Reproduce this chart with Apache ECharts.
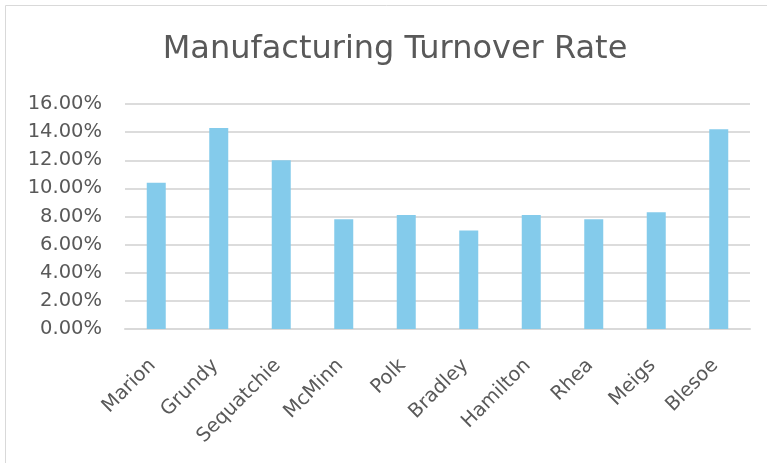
<!DOCTYPE html>
<html><head><meta charset="utf-8">
<script src="https://cdn.jsdelivr.net/npm/echarts@6/dist/echarts.min.js"></script>
<style>html,body{margin:0;padding:0;background:#fff}#c{width:767px;height:463px}</style>
</head><body><div id="c"></div>
<script>
const categories = ['Marion','Grundy','Sequatchie','McMinn','Polk','Bradley','Hamilton','Rhea','Meigs','Blesoe'];
const turnoverRate = [0.104, 0.143, 0.120, 0.078, 0.081, 0.070, 0.081, 0.078, 0.083, 0.142];
const yMin = 0, yMax = 0.16, yStep = 0.02;
const chart = echarts.init(document.getElementById('c'));
chart.setOption({
  animation: false,
  graphic: [{type:'rect', shape:{x:5.5,y:5.5,width:780,height:480}, style:{fill:'none', stroke:'#d9d9d9', lineWidth:1}, silent:true}],
  title: {text:'Manufacturing Turnover Rate', left: 390, top: 29, textAlign:'center',
    textStyle:{fontFamily:'DejaVu Sans, sans-serif', fontSize:32, fontWeight:'normal', color:'#595959'}},
  grid: {left:125, right:17, top:104, bottom:134},
  xAxis: {type:'category', data:categories,
    axisLine:{lineStyle:{color:'#d9d9d9', width:2}}, axisTick:{show:false},
    axisLabel:{rotate:45, color:'#595959', fontSize:19.5, fontFamily:'DejaVu Sans, sans-serif', margin:30, padding:[0,5,0,0], interval:0}},
  yAxis: {type:'value', min:yMin, max:yMax, interval:yStep,
    axisLine:{show:false}, axisTick:{show:false},
    splitLine:{lineStyle:{color:'#dcdcdc', width:2}},
    axisLabel:{color:'#595959', fontSize:19.5, fontFamily:'DejaVu Sans, sans-serif', margin:23,
      formatter: v => (v*100).toFixed(2)+'%'}},
  series: [{type:'bar', data:turnoverRate, barWidth:19, itemStyle:{color:'#84cbeb'}}]
});
</script></body></html>
